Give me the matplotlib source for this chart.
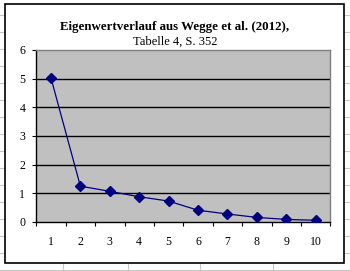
import matplotlib
matplotlib.use("Agg")
import matplotlib.pyplot as plt
from matplotlib.lines import Line2D
from matplotlib.patches import Rectangle

# data
components = [1, 2, 3, 4, 5, 6, 7, 8, 9, 10]
eigenvalues = [5.02, 1.25, 1.07, 0.88, 0.73, 0.41, 0.28, 0.16, 0.09, 0.06]
y_ticks = [0, 1, 2, 3, 4, 5, 6]
title = "Eigenwertverlauf aus Wegge et al. (2012),"
subtitle = "Tabelle 4, S. 352"

W, H = 350, 271
fig = plt.figure(figsize=(W / 100, H / 100), dpi=100)
fig.patch.set_facecolor("white")

def px(x, y):
    return x / W, 1 - y / H

# spreadsheet cell grid behind the chart
grid_c = "#c8c8c8"
for gy in [15, 32, 49, 66, 83, 100, 117, 134, 151, 168, 185, 202, 219, 236, 253]:
    fig.add_artist(Line2D([0, 1], [1 - gy / H] * 2, color=grid_c, lw=0.8, zorder=0))
fig.add_artist(Line2D([0, 1], [1 - 269.5 / H] * 2, color=grid_c, lw=0.8, zorder=0))
for gx in [63, 128, 200, 273]:
    fig.add_artist(Line2D([gx / W] * 2, [0, 1 - 263 / H], color=grid_c, lw=0.8, zorder=0))

# chart area
x0, y0 = px(5, 263)
x1, y1 = px(344, 4)
fig.add_artist(Rectangle((x0, y0), x1 - x0, y1 - y0, transform=fig.transFigure,
                         facecolor="white", edgecolor="black", lw=1.2, zorder=1))

# plot area
l, b = px(36.3, 222)
r, t = px(330.3, 50)
ax = fig.add_axes([l, b, r - l, t - b], zorder=2)
ax.set_facecolor("#c0c0c0")
for s in ax.spines.values():
    s.set_color("#808080")
    s.set_linewidth(1.0)
ax.spines["left"].set_color("black")
ax.spines["bottom"].set_color("black")

ax.set_xlim(0.5, 10.5)
ax.set_ylim(0, 6)
ax.set_yticks(y_ticks)
for v in y_ticks[1:-1]:
    ax.axhline(v, color="black", lw=1.0, zorder=1)

ax.plot(components, eigenvalues, color="#000080", lw=0.9, marker="D",
        markersize=5, markerfacecolor="#000080", markeredgecolor="#000080", zorder=3)

ax.set_xticks([c + 0.5 for c in [0] + components])
ax.set_xticks(components, minor=True)
ax.set_xticklabels([])
ax.set_xticklabels([str(c) for c in components], minor=True)
ax.tick_params(axis="x", which="major", direction="out", length=3, width=0.8, color="black")
ax.tick_params(axis="x", which="minor", length=0, pad=10)
ax.tick_params(axis="y", direction="out", length=3, width=0.8, pad=5)
for lab in ax.get_xticklabels(minor=True) + ax.get_yticklabels():
    lab.set_fontfamily("Liberation Serif")
    lab.set_fontsize(8.5)

fig.text(175 / W, 1 - 27 / H, title, ha="center", va="center",
         fontfamily="Liberation Serif", fontweight="bold", fontsize=9.3)
fig.text(175 / W, 1 - 42 / H, subtitle, ha="center", va="center",
         fontfamily="Liberation Serif", fontsize=9)

fig.savefig("out.png", dpi=100)
